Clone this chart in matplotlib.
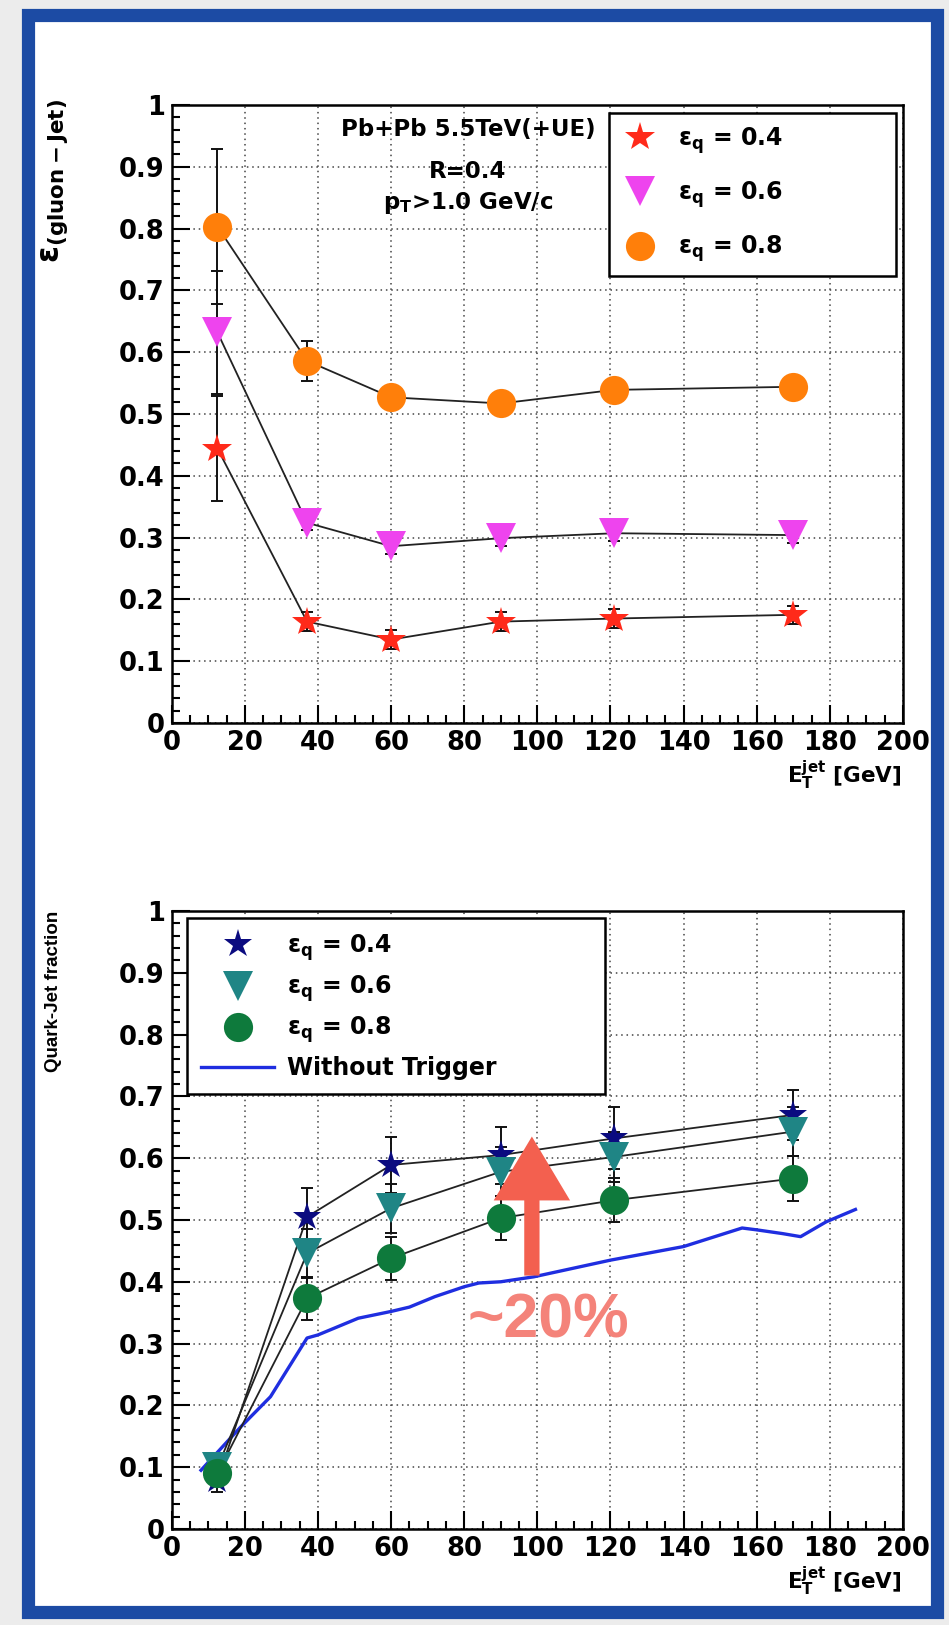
import numpy as np
import matplotlib.pyplot as plt
from matplotlib.patches import Rectangle
from matplotlib.lines import Line2D
from matplotlib.ticker import MultipleLocator, FuncFormatter

plt.rcParams['font.family'] = ['DejaVu Sans']
plt.rcParams['font.weight'] = 'bold'
plt.rcParams['axes.labelweight'] = 'bold'
plt.rcParams['mathtext.fontset'] = 'dejavusans'
plt.rcParams['mathtext.default'] = 'bf'

# jet E_T bins (GeV)
et_bins = [12.5, 37, 60, 90, 121, 170]

# top panel: gluon-jet efficiency for three quark efficiencies
gluon_eff_04 = [0.444, 0.164, 0.135, 0.164, 0.169, 0.175]
gluon_err_04 = [0.085, 0.015, 0.015, 0.015, 0.015, 0.015]
gluon_eff_06 = [0.632, 0.324, 0.286, 0.299, 0.307, 0.304]
gluon_err_06 = [0.100, 0.012, 0.012, 0.012, 0.012, 0.012]
gluon_eff_08 = [0.803, 0.586, 0.527, 0.517, 0.539, 0.544]
gluon_err_08 = [0.125, 0.032, 0.016, 0.016, 0.016, 0.016]

# bottom panel: quark-jet fraction after tagging
quark_frac_04 = [0.080, 0.505, 0.589, 0.605, 0.632, 0.670]
quark_err_04 = [0.020, 0.046, 0.046, 0.046, 0.050, 0.040]
quark_frac_06 = [0.100, 0.446, 0.519, 0.578, 0.602, 0.643]
quark_err_06 = [0.020, 0.040, 0.040, 0.040, 0.040, 0.040]
quark_frac_08 = [0.090, 0.373, 0.438, 0.503, 0.532, 0.567]
quark_err_08 = [0.020, 0.035, 0.035, 0.035, 0.036, 0.037]

# quark fraction without trigger (blue curve)
notrig_et = [8, 19, 27, 37, 40, 51, 60, 65, 72, 80, 84, 90, 99, 120, 140,
             156, 160, 167, 172, 179, 187]
notrig_frac = [0.095, 0.166, 0.214, 0.309, 0.314, 0.341, 0.352, 0.359, 0.376,
               0.392, 0.398, 0.400, 0.408, 0.435, 0.457, 0.487, 0.484, 0.478,
               0.473, 0.497, 0.517]

eps_labels = [r'$\varepsilon_{q}$ = 0.4', r'$\varepsilon_{q}$ = 0.6', r'$\varepsilon_{q}$ = 0.8']

fig = plt.figure(figsize=(9.49, 16.25), dpi=100)
fig.patch.set_facecolor('#ececec')

# white page with blue frame
fig.patches.append(Rectangle((0.029, 0.008), 0.958, 0.983, transform=fig.transFigure,
                             facecolor='white', edgecolor='#1c4ba4', linewidth=9.5,
                             zorder=-5))

ax1 = fig.add_axes([0.181, 0.5551, 0.7705, 0.3803])
ax2 = fig.add_axes([0.181, 0.0591, 0.7705, 0.3803])


def style_axes(ax):
    ax.set_xlim(0, 200)
    ax.set_ylim(0, 1)
    ax.xaxis.set_major_locator(MultipleLocator(20))
    ax.xaxis.set_minor_locator(MultipleLocator(5))
    ax.yaxis.set_major_locator(MultipleLocator(0.1))
    ax.yaxis.set_minor_locator(MultipleLocator(0.02))
    ax.yaxis.set_major_formatter(FuncFormatter(lambda v, p: f'{v:g}'))
    ax.tick_params(which='both', direction='in', top=False, right=False, width=1.5)
    ax.tick_params(which='major', length=13, labelsize=18.5, pad=5)
    ax.tick_params(which='minor', length=6)
    ax.grid(True, which='major', linestyle=(0, (1, 2.5)), color='#444444', lw=1.1)
    for s in ax.spines.values():
        s.set_linewidth(1.8)
    ax.set_xlabel(r'$E_{T}^{jet}$ [GeV]', fontsize=15.5, loc='right')
    ax.xaxis.set_label_coords(0.997, -0.058)


def draw_series(ax, y, err, marker, color, ms):
    ax.plot(et_bins, y, '-', color='#222222', lw=1.3, zorder=3)
    ax.errorbar(et_bins, y, yerr=err, fmt='none', ecolor='#111111', elinewidth=1.4,
                capsize=4, capthick=1.4, zorder=4)
    ax.plot(et_bins, y, linestyle='none', marker=marker, color=color, ms=ms,
            markeredgewidth=0, zorder=5)


# ---- top panel
style_axes(ax1)
draw_series(ax1, gluon_eff_04, gluon_err_04, '*', '#ff2a1a', 22)
draw_series(ax1, gluon_eff_06, gluon_err_06, 'v', '#ee44ee', 21)
draw_series(ax1, gluon_eff_08, gluon_err_08, 'o', '#ff7f0a', 21)
ax1.set_ylabel(r'$\varepsilon_{(gluon-Jet)}$', fontsize=22, loc='top')
ax1.yaxis.set_label_coords(-0.139, 1.01)

ax1.text(81, 0.96, 'Pb+Pb 5.5TeV(+UE)', ha='center', va='center', fontsize=16.5)
ax1.text(81, 0.892, 'R=0.4', ha='center', va='center', fontsize=16.5)
ax1.text(81, 0.841, r'p$_{T}$>1.0 GeV/c', ha='center', va='center', fontsize=16.5)

h1 = [Line2D([], [], ls='none', marker='*', color='#ff2a1a', ms=22, mew=0),
      Line2D([], [], ls='none', marker='v', color='#ee44ee', ms=21, mew=0),
      Line2D([], [], ls='none', marker='o', color='#ff7f0a', ms=21, mew=0)]
leg1 = ax1.legend(h1, eps_labels, loc='upper left', mode='expand',
                  bbox_to_anchor=(0.598, 0.722, 0.392, 0.265), borderaxespad=0,
                  fontsize=17, frameon=True, fancybox=False, edgecolor='black',
                  framealpha=1, labelspacing=1.0, borderpad=0.5,
                  handlelength=1.6, handletextpad=0.8)
leg1.get_frame().set_linewidth(1.8)

# ---- bottom panel
style_axes(ax2)
ax2.plot(notrig_et, notrig_frac, '-', color='#1f2ee0', lw=2.4, zorder=2)
draw_series(ax2, quark_frac_04, quark_err_04, '*', '#0b0b80', 21)
draw_series(ax2, quark_frac_06, quark_err_06, 'v', '#1f8585', 21)
draw_series(ax2, quark_frac_08, quark_err_08, 'o', '#0e7a3c', 21)
ax2.set_ylabel('Quark-Jet fraction', fontsize=13.5, family='Liberation Sans', loc='top')
ax2.yaxis.set_label_coords(-0.150, 1.0)

h2 = [Line2D([], [], ls='none', marker='*', color='#0b0b80', ms=21, mew=0),
      Line2D([], [], ls='none', marker='v', color='#1f8585', ms=21, mew=0),
      Line2D([], [], ls='none', marker='o', color='#0e7a3c', ms=21, mew=0),
      Line2D([], [], color='#1f2ee0', lw=2.4)]
leg2 = ax2.legend(h2, eps_labels + ['Without Trigger'], loc='upper left', mode='expand',
                  bbox_to_anchor=(0.021, 0.72, 0.571, 0.269), borderaxespad=0,
                  fontsize=17, frameon=True, fancybox=False, edgecolor='black',
                  framealpha=1, labelspacing=0.45, borderpad=0.6,
                  handlelength=3.1, handletextpad=0.55)
leg2.get_frame().set_linewidth(1.8)

# hand-drawn style arrow and label
ax2.annotate('', xy=(98.5, 0.635), xytext=(98.5, 0.41),
             arrowprops=dict(arrowstyle='simple,head_length=0.92,head_width=1.1,tail_width=0.22',
                             mutation_scale=50, color='#f3604f', lw=0,
                             shrinkA=0, shrinkB=0), zorder=6)
ax2.text(103, 0.337, '~20%', ha='center', va='center', fontsize=45,
         family='Liberation Sans', color='#f4837a', zorder=6)

fig.savefig('out.png', dpi=100, facecolor=fig.get_facecolor())
